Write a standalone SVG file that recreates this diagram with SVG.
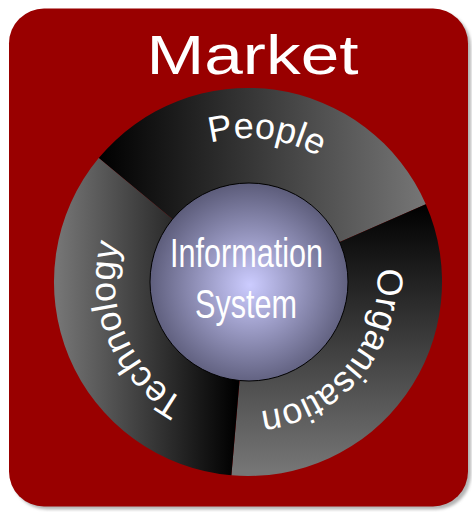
<svg xmlns="http://www.w3.org/2000/svg" xmlns:xlink="http://www.w3.org/1999/xlink" width="472" height="512" viewBox="0 0 472 512">
<style>
.lbl{fill:#ffffff;font-family:"Liberation Sans",Arial,sans-serif;}
.ring{font-size:36px;}
.narrow{font-family:"Liberation Sans Narrow","Liberation Sans",Arial,sans-serif;font-size:41px;}
</style>
<defs>
<filter id="blur" x="-5%" y="-5%" width="110%" height="110%"><feGaussianBlur stdDeviation="1.5"/></filter>
<linearGradient id="gPeople" gradientUnits="userSpaceOnUse" x1="100" y1="0" x2="423" y2="0">
<stop offset="0" stop-color="#000000"/><stop offset="1" stop-color="#757575"/></linearGradient>
<linearGradient id="gOrg" gradientUnits="userSpaceOnUse" x1="0" y1="205" x2="0" y2="470">
<stop offset="0" stop-color="#000000"/><stop offset="1" stop-color="#757575"/></linearGradient>
<linearGradient id="gTech" gradientUnits="userSpaceOnUse" x1="236" y1="0" x2="58" y2="0">
<stop offset="0" stop-color="#000000"/><stop offset="1" stop-color="#757575"/></linearGradient>
<radialGradient id="gSphere" gradientUnits="userSpaceOnUse" cx="250" cy="285" r="102">
<stop offset="0" stop-color="#ccccff"/><stop offset="1" stop-color="#5c5c7a"/></radialGradient>
<path id="pPeople" d="M131.5,197.4 A144,144 0 0 1 379.5,223.4"/>
<path id="pTech" d="M222.4,413.5 A135,135 0 0 1 146.9,194.1"/>
<path id="pOrg" d="M367.7,231.2 A131,131 0 0 1 232.2,411.0"/>
</defs>
<rect width="472" height="512" fill="#ffffff"/>
<g id="market">
<rect x="12" y="11.5" width="459" height="498" rx="35" fill="#b4b4b4" filter="url(#blur)"/>
<rect x="9" y="8.5" width="459" height="498" rx="35" fill="#990000"/>
<text class="lbl" x="252.5" y="73.5" font-size="56" text-anchor="middle" textLength="212" lengthAdjust="spacingAndGlyphs">Market</text>
</g>
<g id="people">
<path d="M98.7,158.1 A194,194 0 0 1 425.8,204.3 L335.1,244.0 A95,95 0 0 0 174.9,221.3 Z" fill="url(#gPeople)"/>
<text class="lbl ring"><textPath xlink:href="#pPeople" href="#pPeople" startOffset="51%" text-anchor="middle">People</textPath></text>
</g>
<g id="organisation">
<path d="M425.8,204.3 A194,194 0 0 1 231.4,475.3 L239.9,376.6 A95,95 0 0 0 335.1,244.0 Z" fill="url(#gOrg)"/>
<text class="lbl ring" font-size="32"><textPath xlink:href="#pOrg" href="#pOrg" startOffset="52%" text-anchor="middle">Organisation</textPath></text>
</g>
<g id="technology">
<path d="M231.4,475.3 A194,194 0 0 1 98.7,158.1 L174.9,221.3 A95,95 0 0 0 239.9,376.6 Z" fill="url(#gTech)"/>
<text class="lbl ring"><textPath xlink:href="#pTech" href="#pTech" startOffset="47%" text-anchor="middle">Technology</textPath></text>
</g>
<g id="information-system">
<circle cx="249" cy="282" r="99" fill="url(#gSphere)" stroke="#000000" stroke-width="1"/>
<text class="lbl narrow" x="246.5" y="266.5" text-anchor="middle" textLength="153" lengthAdjust="spacingAndGlyphs">Information</text>
<text class="lbl narrow" x="246" y="318" text-anchor="middle" textLength="102" lengthAdjust="spacingAndGlyphs">System</text>
</g>
</svg>
